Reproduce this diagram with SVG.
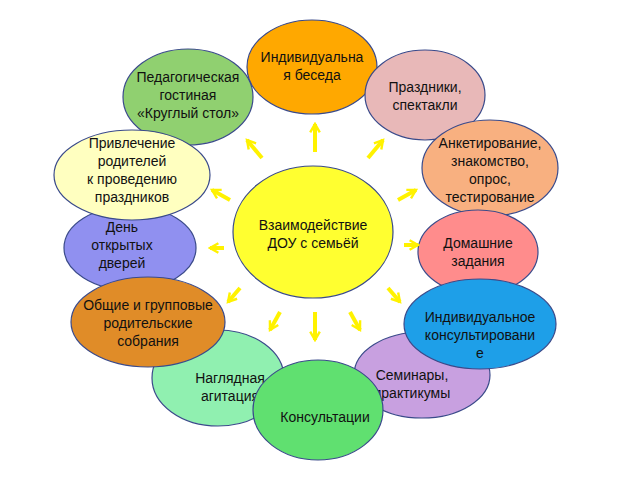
<svg xmlns="http://www.w3.org/2000/svg" width="640" height="480" viewBox="0 0 640 480">
<style>
.n{stroke:#3a4a8a;stroke-width:1.2}
text{font-family:"Liberation Sans",Arial,sans-serif;font-size:14px;fill:#111;text-anchor:middle}
.a{stroke:#FFF200;stroke-width:4;fill:none;stroke-linejoin:miter}
</style>
<defs><marker id="h" viewBox="0 0 10 10" refX="8" refY="5" markerWidth="3" markerHeight="3" orient="auto"><path d="M1,1 L8,5 L1,9" fill="none" stroke="#FFF200" stroke-width="2"/></marker></defs>
<rect width="640" height="480" fill="#fff"/>
<g id="n1"><ellipse class="n" cx="312" cy="67" rx="65" ry="47" fill="#FFA800"/><text x="312" y="62">Индивидуальна</text><text x="312" y="80">я беседа</text></g>
<g id="n2"><ellipse class="n" cx="425" cy="95" rx="60" ry="45" fill="#E8B8B8"/><text x="425" y="92">Праздники,</text><text x="425" y="110">спектакли</text></g>
<g id="n3"><ellipse class="n" cx="490" cy="168" rx="68" ry="48" fill="#F8B080"/><text x="490" y="148">Анкетирование,</text><text x="490" y="166">знакомство,</text><text x="490" y="184">опрос,</text><text x="490" y="202">тестирование</text></g>
<g id="n4"><ellipse class="n" cx="478" cy="252" rx="60" ry="42" fill="#FF8C8C"/><text x="478" y="248">Домашние</text><text x="478" y="266">задания</text></g>
<g id="n6"><ellipse class="n" cx="422" cy="375" rx="68" ry="43" fill="#C8A0E0"/><text x="412" y="380">Семинары,</text><text x="412" y="398">практикумы</text></g>
<g id="n5"><ellipse class="n" cx="480" cy="324" rx="76" ry="45" fill="#1E9FE8"/><text x="480" y="322">Индивидуальное</text><text x="480" y="340">консультировани</text><text x="480" y="358">е</text></g>
<g id="n8"><ellipse class="n" cx="218" cy="378" rx="66" ry="48" fill="#90F0B0"/><text x="230" y="383">Наглядная</text><text x="230" y="401">агитация</text></g>
<g id="n7"><ellipse class="n" cx="318" cy="410" rx="65" ry="50" fill="#60E070"/><text x="325" y="422">Консультации</text></g>
<g id="n12"><ellipse class="n" cx="188" cy="97" rx="65" ry="48" fill="#90D070"/><text x="188" y="82">Педагогическая</text><text x="188" y="100">гостиная</text><text x="188" y="118">«Круглый стол»</text></g>
<g id="n10"><ellipse class="n" cx="130" cy="248" rx="66" ry="42" fill="#9090F0"/><text x="122" y="232">День</text><text x="122" y="250">открытых</text><text x="122" y="268">дверей</text></g>
<g id="n11"><ellipse class="n" cx="132" cy="175" rx="78" ry="45" fill="#FFFFC0"/><text x="132" y="148">Привлечение</text><text x="132" y="166">родителей</text><text x="132" y="184">к проведению</text><text x="132" y="202">праздников</text></g>
<g id="n9"><ellipse class="n" cx="148" cy="322" rx="77" ry="45" fill="#E08C28"/><text x="148" y="310">Общие и групповые</text><text x="148" y="328">родительские</text><text x="148" y="346">собрания</text></g>
<g id="n0"><ellipse class="n" cx="313" cy="232" rx="80" ry="66" fill="#FFFF30"/><text x="313" y="230">Взаимодействие</text><text x="313" y="248">ДОУ с семьёй</text></g>
<g id="connectors">
<path class="a" d="M315,152 L315,124" marker-end="url(#h)"/>
<path class="a" d="M262,158 L247,140" marker-end="url(#h)"/>
<path class="a" d="M368,158 L383,140" marker-end="url(#h)"/>
<path class="a" d="M398,200 L416,190" marker-end="url(#h)"/>
<path class="a" d="M230,200 L212,190" marker-end="url(#h)"/>
<path class="a" d="M404,245 L418,245" marker-end="url(#h)"/>
<path class="a" d="M224,248 L210,248" marker-end="url(#h)"/>
<path class="a" d="M388,288 L400,302" marker-end="url(#h)"/>
<path class="a" d="M240,288 L228,302" marker-end="url(#h)"/>
<path class="a" d="M350,312 L360,330" marker-end="url(#h)"/>
<path class="a" d="M280,312 L270,330" marker-end="url(#h)"/>
<path class="a" d="M315,312 L315,340" marker-end="url(#h)"/>
</g>
</svg>
